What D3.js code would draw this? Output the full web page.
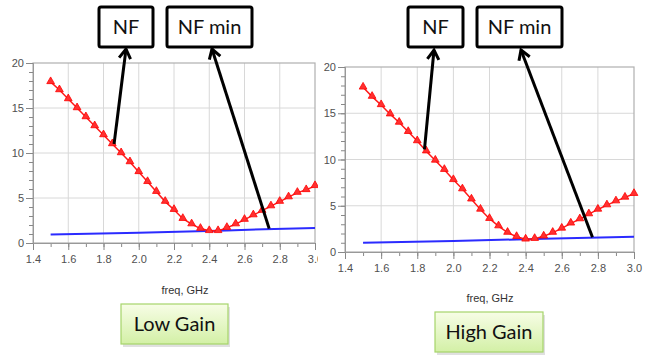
<!DOCTYPE html>
<html>
<head>
<meta charset="utf-8">
<script src="https://cdn.jsdelivr.net/npm/d3@7"></script>
<style>
  html, body { margin: 0; padding: 0; background: #fff; }
  svg { display: block; }
</style>
</head>
<body>
<svg id="chart" width="652" height="355"></svg>
<script>
// frequency points, GHz
const freq = [1.5, 1.55, 1.6, 1.65, 1.7, 1.75, 1.8, 1.85, 1.9, 1.95, 2.0, 2.05, 2.1, 2.15, 2.2, 2.25,
              2.3, 2.35, 2.4, 2.45, 2.5, 2.55, 2.6, 2.65, 2.7, 2.75, 2.8, 2.85, 2.9, 2.95, 3.0];
// NF, low gain
const nfLow = [17.9, 17.0, 16.0, 15.0, 14.0, 13.0, 12.0, 11.0, 10.0, 9.0, 7.9, 6.8, 5.7, 4.6, 3.7, 2.7,
               2.1, 1.6, 1.35, 1.35, 1.7, 2.1, 2.6, 3.1, 3.6, 4.1, 4.6, 5.1, 5.6, 5.9, 6.35];
// NF, high gain
const nfHigh = [17.8, 16.8, 15.9, 14.9, 14.0, 13.0, 12.0, 10.9, 9.9, 8.9, 7.8, 6.8, 5.7, 4.6, 3.6, 2.8,
                2.1, 1.65, 1.37, 1.44, 1.7, 2.1, 2.55, 3.1, 3.56, 4.1, 4.6, 5.07, 5.5, 5.9, 6.3];
// NF min (no markers)
const nfMinFreq = [1.5, 2.0, 2.5, 3.0];
const nfMinLow = [0.95, 1.15, 1.4, 1.68];
const nfMinHigh = [1.0, 1.2, 1.42, 1.65];

const xTicks = [1.4, 1.6, 1.8, 2.0, 2.2, 2.4, 2.6, 2.8, 3.0];
const yTicks = [0, 5, 10, 15, 20];
const xLabel = "freq, GHz";
const boxLabels = ["NF", "NF min"];
const gainLabels = ["Low Gain", "High Gain"];
// arrow tails, in data units [freq, dB]
const arrowTailsLow = [[1.86, 11.0], [2.74, 1.6]];
const arrowTailsHigh = [[1.84, 11.1], [2.77, 1.6]];

const svg = d3.select("#chart");

const defs = svg.append("defs");
const grad = defs.append("linearGradient").attr("id", "gainFill")
  .attr("x1", 0).attr("y1", 0).attr("x2", 0).attr("y2", 1);
grad.append("stop").attr("offset", "0%").attr("stop-color", "#f7fde6");
grad.append("stop").attr("offset", "100%").attr("stop-color", "#d3f0a6");
defs.append("clipPath").attr("id", "leftClip")
  .append("rect").attr("x", 0).attr("y", 0).attr("width", 318).attr("height", 355);

const panels = [
  { nf: nfLow, nfMin: nfMinLow, tails: arrowTailsLow, gain: gainLabels[0],
    x0: 33, x1: 315, y0: 243, y1: 63, clip: "url(#leftClip)",
    boxes: [[99, 7, 54, 40], [167, 7, 85, 40]], heads: [[126, 49], [212, 49]],
    xlabY: 294, xlabX: 185, gainBox: [121, 304, 107, 40] },
  { nf: nfHigh, nfMin: nfMinHigh, tails: arrowTailsHigh, gain: gainLabels[1],
    x0: 345, x1: 634, y0: 252, y1: 67, clip: null,
    boxes: [[408, 7, 55, 40], [477, 7, 85, 40]], heads: [[434, 50], [521, 50]],
    xlabY: 302, xlabX: 490, gainBox: [435, 312, 108, 40] }
];

panels.forEach(p => {
  const g = svg.append("g").attr("clip-path", p.clip);
  const x = d3.scaleLinear().domain([1.4, 3.0]).range([p.x0, p.x1]);
  const y = d3.scaleLinear().domain([0, 20]).range([p.y0, p.y1]);

  // grid
  g.append("g").selectAll("line").data(xTicks.slice(1, -1)).join("line")
    .attr("x1", d => x(d)).attr("x2", d => x(d)).attr("y1", p.y0).attr("y2", p.y1)
    .attr("stroke", "#d8d8d8").attr("stroke-width", 1);
  g.append("g").selectAll("line").data(yTicks.slice(1, -1)).join("line")
    .attr("x1", p.x0).attr("x2", p.x1).attr("y1", d => y(d)).attr("y2", d => y(d))
    .attr("stroke", "#d8d8d8").attr("stroke-width", 1);
  // frame
  g.append("rect").attr("x", p.x0).attr("y", p.y1)
    .attr("width", p.x1 - p.x0).attr("height", p.y0 - p.y1)
    .attr("fill", "none").attr("stroke", "#b0b0b0").attr("stroke-width", 1.2);

  // axes
  const xMinor = d3.range(1.4, 3.001, 0.1);
  const yMinor = d3.range(0, 20.001, 1);
  const xa = g.append("g").attr("transform", `translate(0,${p.y0})`)
    .call(d3.axisBottom(x).tickValues(xMinor).tickSize(4).tickFormat(""));
  const xb = g.append("g").attr("transform", `translate(0,${p.y0})`)
    .call(d3.axisBottom(x).tickValues(xTicks).tickSize(7).tickPadding(5).tickFormat(d3.format(".1f")));
  const ya = g.append("g").attr("transform", `translate(${p.x0},0)`)
    .call(d3.axisLeft(y).tickValues(yMinor).tickSize(4).tickFormat(""));
  const yb = g.append("g").attr("transform", `translate(${p.x0},0)`)
    .call(d3.axisLeft(y).tickValues(yTicks).tickSize(7).tickPadding(2));
  [xa, xb, ya, yb].forEach(a => {
    a.select(".domain").attr("stroke", "#999");
    a.selectAll(".tick line").attr("stroke", "#888");
    a.selectAll("text").attr("fill", "#505050")
      .style("font-family", "Liberation Sans, Arial, sans-serif").style("font-size", "11px");
  });

  // NF min
  const pts = nfMinFreq.map((f, i) => [f, p.nfMin[i]]);
  g.append("path").datum(pts)
    .attr("d", d3.line().x(d => x(d[0])).y(d => y(d[1])))
    .attr("fill", "none").attr("stroke", "#2b2bff").attr("stroke-width", 2);

  // NF
  const nfPts = freq.map((f, i) => [f, p.nf[i]]);
  g.append("path").datum(nfPts)
    .attr("d", d3.line().x(d => x(d[0])).y(d => y(d[1])))
    .attr("fill", "none").attr("stroke", "#ff1a1a").attr("stroke-width", 1.5);
  g.append("g").selectAll("path").data(nfPts).join("path")
    .attr("transform", d => `translate(${x(d[0])},${y(d[1]) - 0.5})`)
    .attr("d", d3.symbol(d3.symbolTriangle, 26))
    .attr("fill", "#ff3030").attr("stroke", "#ff0000").attr("stroke-width", 0.8);

  // x label
  g.append("text").attr("x", p.xlabX).attr("y", p.xlabY)
    .attr("text-anchor", "middle").attr("fill", "#333")
    .style("font-family", "Liberation Sans, Arial, sans-serif").style("font-size", "11px")
    .text(xLabel);

  // annotation arrows
  p.tails.forEach((t, i) => {
    const tx = x(t[0]), ty = y(t[1]);
    const [hx, hy] = p.heads[i];
    svg.append("line").attr("x1", tx).attr("y1", ty).attr("x2", hx).attr("y2", hy)
      .attr("stroke", "#000").attr("stroke-width", 3);
    const ang = Math.atan2(ty - hy, tx - hx);
    const L = 11, spread = 0.55;
    const a1 = [hx + L * Math.cos(ang - spread), hy + L * Math.sin(ang - spread)];
    const a2 = [hx + L * Math.cos(ang + spread), hy + L * Math.sin(ang + spread)];
    svg.append("path").attr("d", `M${a1[0]},${a1[1]}L${hx},${hy}L${a2[0]},${a2[1]}`)
      .attr("fill", "none").attr("stroke", "#000").attr("stroke-width", 3)
      .attr("stroke-linejoin", "miter");
  });
  // annotation boxes
  p.boxes.forEach((b, i) => {
    svg.append("rect").attr("x", b[0]).attr("y", b[1]).attr("width", b[2]).attr("height", b[3])
      .attr("rx", 2).attr("fill", "#fff").attr("stroke", "#000").attr("stroke-width", 3);
    svg.append("text").attr("x", b[0] + b[2] / 2).attr("y", b[1] + b[3] / 2 + 7)
      .attr("text-anchor", "middle").attr("fill", "#111")
      .style("font-family", "Lato, Open Sans, sans-serif").style("font-size", "20px")
      .text(boxLabels[i]);
  });

  // gain label box
  const gb = p.gainBox;
  svg.append("rect").attr("x", gb[0] + 2).attr("y", gb[1] + 3).attr("width", gb[2]).attr("height", gb[3])
    .attr("fill", "#000").attr("opacity", 0.12);
  svg.append("rect").attr("x", gb[0]).attr("y", gb[1]).attr("width", gb[2]).attr("height", gb[3])
    .attr("fill", "url(#gainFill)").attr("stroke", "#a6d46a").attr("stroke-width", 1.2);
  svg.append("text").attr("x", gb[0] + gb[2] / 2).attr("y", gb[1] + gb[3] / 2 + 7)
    .attr("text-anchor", "middle").attr("fill", "#111")
    .style("font-family", "Lato, Open Sans, sans-serif").style("font-size", "20px")
    .text(p.gain);
});
</script>
</body>
</html>
